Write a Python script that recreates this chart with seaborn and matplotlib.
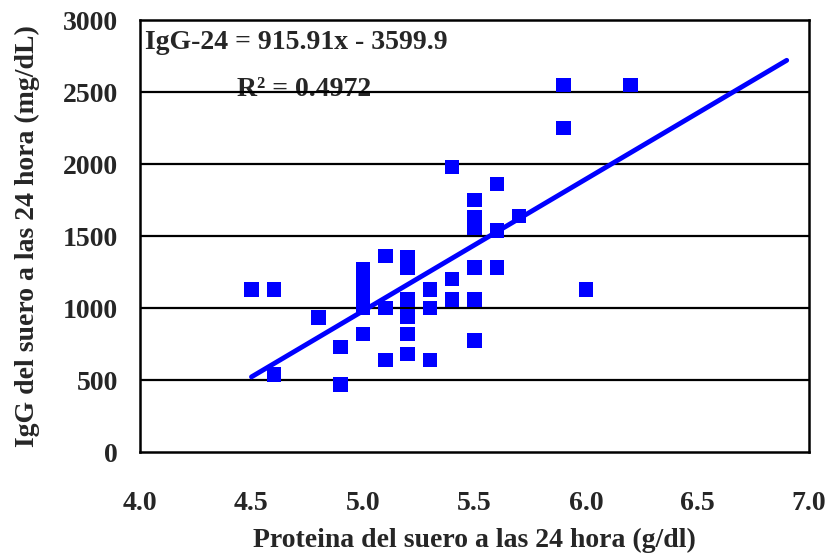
import numpy as np
import pandas as pd
import matplotlib
matplotlib.use("Agg")
import matplotlib.pyplot as plt
import seaborn as sns
from matplotlib.ticker import MultipleLocator

# ---- data ----
proteina = [4.5, 4.6, 4.6, 4.8, 4.9, 4.9,
            5.0, 5.0, 5.0, 5.0, 5.0, 5.0,
            5.1, 5.1, 5.1,
            5.2, 5.2, 5.2, 5.2, 5.2, 5.2,
            5.3, 5.3, 5.3,
            5.4, 5.4, 5.4,
            5.5, 5.5, 5.5, 5.5, 5.5, 5.5,
            5.6, 5.6, 5.6,
            5.7, 5.9, 5.9, 6.0, 6.2]
igg = [1130, 1130, 540, 935, 730, 470,
       1270, 1200, 1130, 1060, 1000, 820,
       1360, 1000, 640,
       1350, 1280, 1060, 940, 820, 680,
       1130, 1000, 640,
       1980, 1200, 1060,
       1750, 1630, 1560, 1280, 1060, 775,
       1860, 1540, 1280,
       1640, 2550, 2250, 1130, 2550]

slope = 915.91
intercept = -3599.9
r2 = 0.4972
line_x = [4.5, 6.9]

x_ticks = [4.0, 4.5, 5.0, 5.5, 6.0, 6.5, 7.0]
y_ticks = [0, 500, 1000, 1500, 2000, 2500, 3000]
x_label = "Proteina del suero a las 24 hora (g/dl)"
y_label = "IgG del suero a las 24 hora (mg/dL)"
eq_text = "IgG-24 = 915.91x - 3599.9"
r2_text = "R\u00b2 = 0.4972"

df = pd.DataFrame({"x": proteina, "y": igg})
line_df = pd.DataFrame({"x": line_x, "y": [slope * v + intercept for v in line_x]})

# ---- style ----
sns.set_style("white")
plt.rcParams["font.family"] = ["Liberation Serif", "DejaVu Serif"]
plt.rcParams["font.weight"] = "bold"

FS = 20

fig = plt.figure(figsize=(8.3, 5.57), dpi=100)
ax = fig.add_axes([140 / 830, 1 - 452 / 557, 669 / 830, 432 / 557])

ax.set_xlim(4.0, 7.0)
ax.set_ylim(0, 3000)

for yv in y_ticks[1:-1]:
    ax.axhline(yv, color="black", lw=1.6, zorder=3)

sns.lineplot(data=line_df, x="x", y="y", ax=ax, color="#0000FF", lw=3.5, zorder=4)
sns.scatterplot(data=df, x="x", y="y", ax=ax, marker="s", s=110, color="#0000FF",
                edgecolor="none", linewidth=0, zorder=5)

ax.set_xticks(x_ticks)
ax.set_xticklabels([f"{v:.1f}" for v in x_ticks])
ax.set_yticks(y_ticks)
ax.set_yticklabels([str(v) for v in y_ticks])
ax.xaxis.set_minor_locator(MultipleLocator(0.1))
ax.yaxis.set_minor_locator(MultipleLocator(100))

ax.tick_params(which="major", direction="inout", length=12, width=1.5, color="black")
ax.tick_params(which="minor", direction="in", length=4.5, width=1.5, color="black")
ax.tick_params(axis="x", which="major", pad=22, labelsize=FS)
ax.tick_params(axis="y", which="major", pad=10, labelsize=FS)
for lbl in ax.get_xticklabels() + ax.get_yticklabels():
    lbl.set_fontweight("bold")

for sp in ax.spines.values():
    sp.set_visible(True)
    sp.set_color("black")
    sp.set_linewidth(1.8)

ax.set_xlabel(x_label, fontsize=FS, fontweight="bold")
ax.set_ylabel(y_label, fontsize=FS, fontweight="bold")
ax.xaxis.set_label_coords(0.5, -0.176)
ax.yaxis.set_label_coords(-0.15, 0.5)

ax.text(0.007, 0.933, eq_text, transform=ax.transAxes, fontsize=FS, fontweight="bold",
        ha="left", va="baseline", zorder=2)
ax.text(0.1445, 0.825, r2_text, transform=ax.transAxes, fontsize=FS, fontweight="bold",
        ha="left", va="baseline", zorder=2)

fig.savefig("out.png", dpi=100)
